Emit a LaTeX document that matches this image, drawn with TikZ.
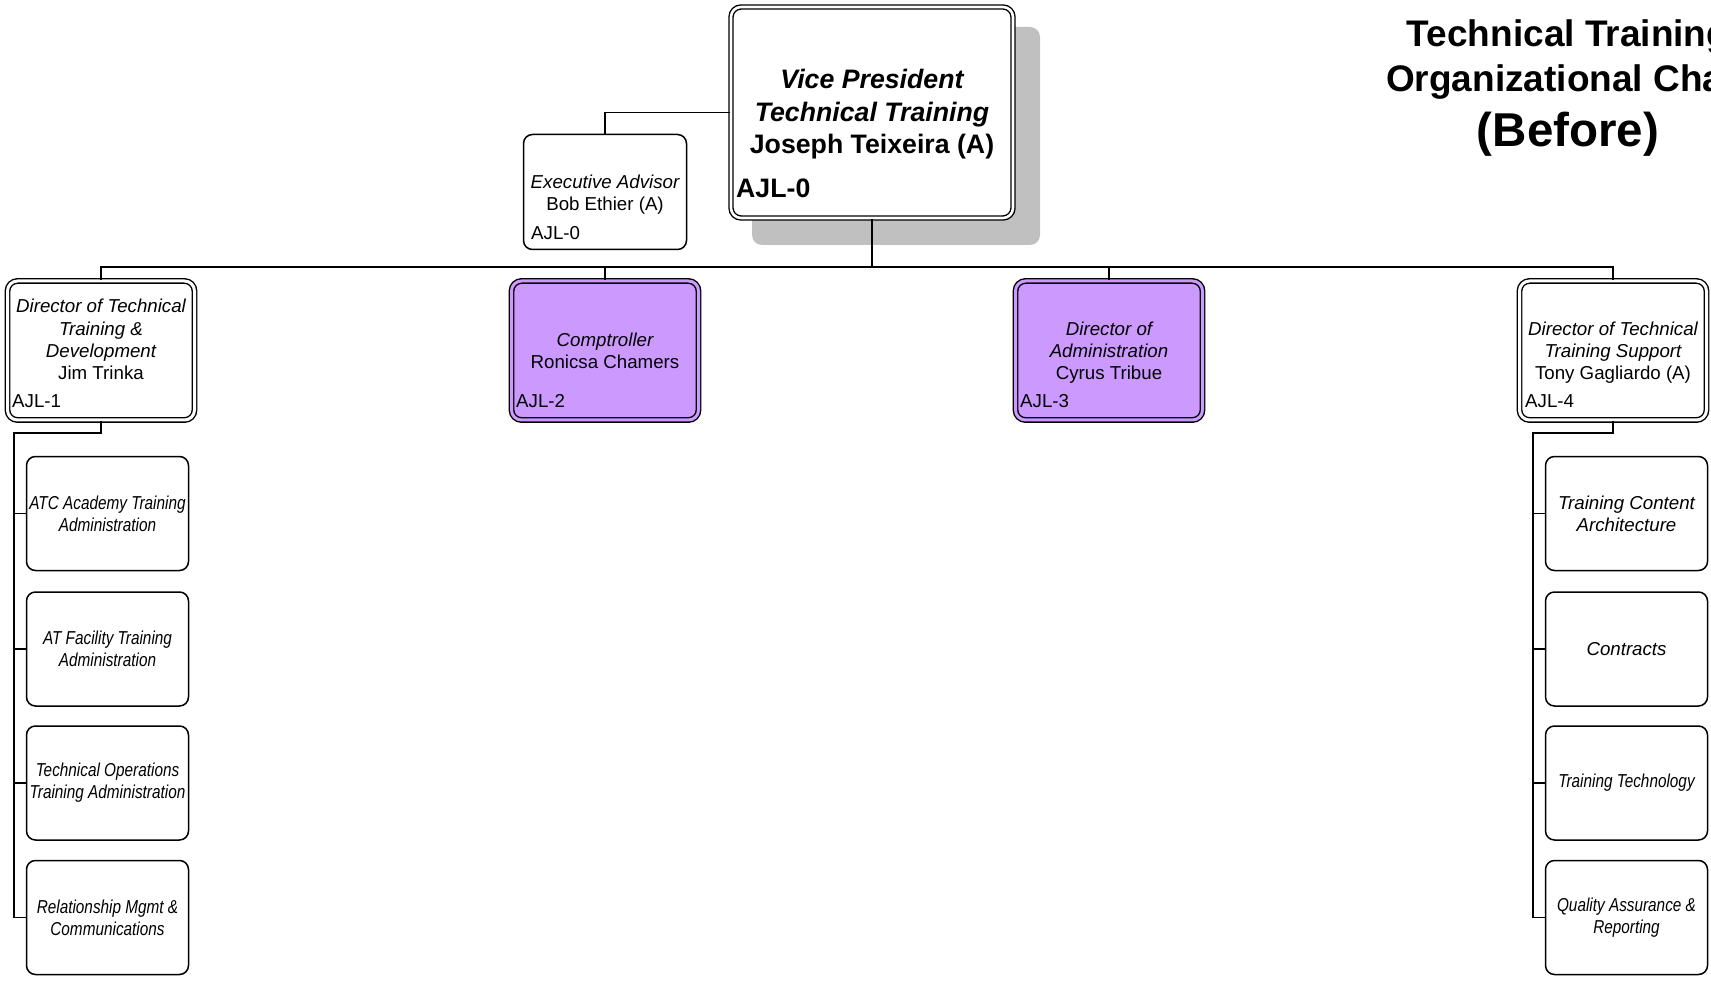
\documentclass[tikz,border=0pt]{standalone}
\usepackage{fontspec}
\setmainfont{Liberation Sans}
\newfontfamily\narrowfont[FakeStretch=0.82]{Liberation Sans}
\definecolor{lav}{HTML}{CC99FF}
\definecolor{shadowgray}{HTML}{C0C0C0}
\begin{document}
\begin{tikzpicture}[x=1pt,y=-1pt,
  conn/.style={line width=1.7pt},
  lbl/.style={anchor=base, inner sep=0pt},
  lblw/.style={anchor=base west, inner sep=0pt},
  mid/.style={font=\fontsize{18.7}{22.3}\selectfont},
  midi/.style={font=\fontsize{18.7}{22.3}\selectfont\itshape},
  dbox/.style={draw, line width=1.4pt, double, double distance=3pt, fill=white,
    rounded corners=10pt, minimum width=187pt, minimum height=139pt, inner sep=0pt},
  pbox/.style={dbox, double=lav, fill=lav},
  sbox/.style={draw, line width=1.5pt, rounded corners=9pt, minimum width=162pt,
    minimum height=114pt, inner sep=0pt, align=center},
  nar/.style={font=\narrowfont\fontsize{18.7}{22.3}\selectfont\itshape},
  reg/.style={font=\fontsize{18.7}{22.3}\selectfont\itshape}
]
\useasboundingbox (0,0) rectangle (1711,981);

% title
\node[lbl, font=\bfseries\fontsize{37}{40}\selectfont] (ti1) at (1568,47) {Technical Training};
\node[lbl, font=\bfseries\fontsize{37}{40}\selectfont] (ti2) at (1568,92) {Organizational Chart};
\node[lbl, font=\bfseries\fontsize{47.5}{50}\selectfont] (ti3) at (1568,147) {(Before)};

% VP
\fill[shadowgray, rounded corners=10pt] (752,27) rectangle (1040,245);
\node[draw, line width=1.4pt, double, double distance=2.6pt, fill=white,
  rounded corners=10pt, minimum width=282pt, minimum height=211pt, inner sep=0pt]
  (vp) at (872,112.5) {};
\node[lbl, font=\bfseries\itshape\fontsize{26.7}{32}\selectfont] (vp1) at (872,89) {Vice President};
\node[lbl, font=\bfseries\itshape\fontsize{26.7}{32}\selectfont] (vp2) at (872,121.5) {Technical Training};
\node[lbl, font=\bfseries\fontsize{26.7}{32}\selectfont] (vp3) at (872,153.5) {Joseph Teixeira (A)};
\node[lblw, font=\bfseries\fontsize{26.7}{32}\selectfont] (vp4) at (736,198) {AJL-0};

% Executive advisor
\node[draw, line width=1.5pt, rounded corners=9pt, minimum width=163pt,
  minimum height=115pt, inner sep=0pt] (ex) at (605,192) {};
\node[lbl, midi] (ex1) at (605,188.5) {Executive Advisor};
\node[lbl, mid] (ex2) at (605,210.5) {Bob Ethier (A)};
\node[lblw, mid] (ex3) at (531,239.5) {AJL-0};

% directors
\node[dbox] (d1) at (101,350.5) {};
\node[lbl, midi] (d1a) at (101,313) {Director of Technical};
\node[lbl, midi] (d1b) at (101,335.3) {Training \&};
\node[lbl, midi] (d1c) at (101,357.6) {Development};
\node[lbl, mid] (d1d) at (101,380) {Jim Trinka};
\node[lblw, mid] (d1e) at (12,408) {AJL-1};

\node[pbox] (d2) at (605,350.5) {};
\node[lbl, midi] (d2a) at (605,346.5) {Comptroller};
\node[lbl, mid] (d2b) at (605,369) {Ronicsa Chamers};
\node[lblw, mid] (d2c) at (516,408) {AJL-2};

\node[pbox] (d3) at (1109,350.5) {};
\node[lbl, midi] (d3a) at (1109,335.3) {Director of};
\node[lbl, midi] (d3b) at (1109,357.6) {Administration};
\node[lbl, mid] (d3c) at (1109,380) {Cyrus Tribue};
\node[lblw, mid] (d3d) at (1020,408) {AJL-3};

\node[dbox] (d4) at (1613,350.5) {};
\node[lbl, midi] (d4a) at (1613,335.3) {Director of Technical};
\node[lbl, midi] (d4b) at (1613,357.6) {Training Support};
\node[lbl, mid] (d4c) at (1613,380) {Tony Gagliardo (A)};
\node[lblw, mid] (d4d) at (1525,408) {AJL-4};

% sub boxes left
\node[sbox, nar] (s1) at (107.5,513.5) {ATC Academy Training\\Administration};
\node[sbox, nar] (s2) at (107.5,649) {AT Facility Training\\Administration};
\node[sbox, nar] (s3) at (107.5,783) {Technical Operations\\Training Administration};
\node[sbox, nar] (s4) at (107.5,917.5) {Relationship Mgmt \&\\Communications};

% sub boxes right
\node[sbox, reg] (t1) at (1626.5,513.5) {Training Content\\Architecture};
\node[sbox, reg] (t2) at (1626.5,649) {Contracts};
\node[sbox, nar] (t3) at (1626.5,783) {Training Technology};
\node[sbox, nar] (t4) at (1626.5,917.5) {Quality Assurance \&\\Reporting};

% connectors
\coordinate (bus) at (872,267);
\coordinate (lv) at (14,433);
\coordinate (rv) at (1533,433);
\draw[conn] (vp.west) -| (ex.north);
\draw[conn] (vp.south) -- (bus);
\draw[conn] (d1.north) |- (bus);
\draw[conn] (d4.north) |- (bus);
\draw[conn] (d2.north) -- (d2.north |- bus);
\draw[conn] (d3.north) -- (d3.north |- bus);
\draw[conn] (d1.south) |- (lv) -- (lv |- s4.west);
\draw[conn] (d4.south) |- (rv) -- (rv |- t4.west);
\foreach \s in {s1,s2,s3,s4} \draw[conn] (lv |- \s.west) -- (\s.west);
\foreach \s in {t1,t2,t3,t4} \draw[conn] (rv |- \s.west) -- (\s.west);
\end{tikzpicture}
\end{document}
